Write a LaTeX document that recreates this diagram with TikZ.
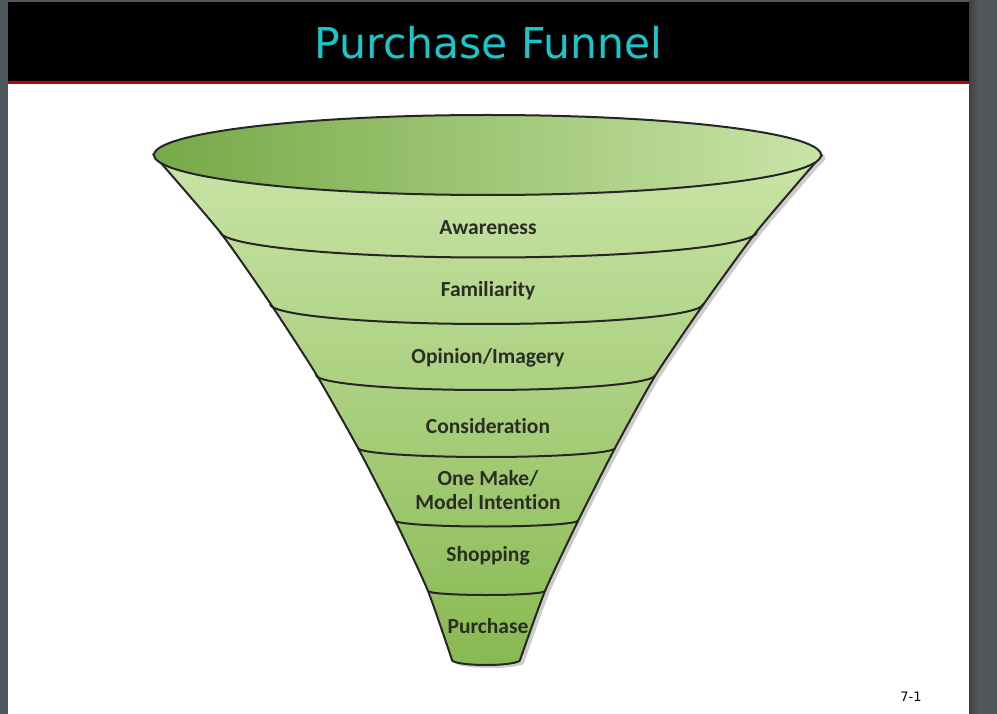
\documentclass[tikz,border=0pt]{standalone}
\usepackage{fontspec}
\newfontfamily\titrefont{DejaVu Sans}
\newfontfamily\etiqfont[Ligatures=NoCommon]{Carlito}
\usetikzlibrary{positioning}

\definecolor{fond}{HTML}{50575B}
\definecolor{titre}{HTML}{16C8CC}
\definecolor{rouge}{HTML}{C00000}
\definecolor{vertclair}{HTML}{C9E4A7}
\definecolor{vertfonce}{HTML}{88B951}
\definecolor{vertbord}{HTML}{76A947}
\definecolor{vertmilieu}{HTML}{8BBA5A}
\definecolor{texte}{HTML}{2A2D25}

% contour de l'entonnoir
\newcommand{\entonnoir}{plot[smooth, tension=0.35] coordinates {(154,155) (220,232) (270,303) (316,374) (358,448) (395,520) (428,591) (452,660)}
  arc[start angle=180, end angle=0, x radius=34, y radius=5]
  -- plot[smooth, tension=0.35] coordinates {(520,660) (545,591) (578,521) (615,448) (655,376) (703,305) (757,231) (821,156)} -- cycle}

\tikzset{
	bord/.style={draw=black!85, line width=2pt},
	bande/.style={draw=black!85, line width=2pt},
	etiq/.style={font=\etiqfont\bfseries\fontsize{21.5}{24}\selectfont, text=texte, align=center, inner sep=0pt}
}

\begin{document}
\begin{tikzpicture}[x=1pt, y=-1pt]
	\useasboundingbox (0,0) rectangle (997,714);
	% Diapositive
	\fill[fond] (0,0) rectangle (997,714);
	\shade[left color=black!75, right color=fond] (969,0) rectangle (978,714);
	\fill[white] (8,2) rectangle (969,714);
	\fill[black] (8,2) rectangle (969,81);
	\fill[rouge] (8,81) rectangle (969,84);
	\node[font=\titrefont\fontsize{42.5}{48}\selectfont, text=titre] (titre) at (488.5,43) {Purchase Funnel};

	% Entonnoir
	\fill[black!20, xshift=4pt, yshift=-3pt] \entonnoir;
	\fill[black!20, xshift=4pt, yshift=-3pt] (487.5,155) ellipse[x radius=333.5, y radius=40];
	\path[top color=vertclair, bottom color=vertfonce] \entonnoir;
	\draw[bord] \entonnoir;
	\foreach \xl/\xr/\y/\s in {220/757/231.5/26, 270/703/304/20, 316/655/375/15, 358/615/448/9, 395/578/520.5/6, 428/545/591/4} {
		\draw[bande] (\xl,\y) arc[start angle=180, end angle=0, x radius={(\xr-\xl)/2}, y radius=\s];
	}
	\draw[bord, left color=vertbord, middle color=vertmilieu, right color=vertclair] (487.5,155) ellipse[x radius=333.5, y radius=40];

	% Etapes
	\node[etiq] (aware) at (488,228) {Awareness};
	\node[etiq] (famil) at (488,291) {Familiarity};
	\node[etiq] (opin) at (488,358) {Opinion/Imagery};
	\node[etiq] (consid) at (488,426) {Consideration};
	\node[etiq] (intent) at (488,490) {One Make/\\Model Intention};
	\node[etiq] (shop) at (488,556) {Shopping};
	\node[etiq] (achat) at (488,626) {Purchase};

	\node[font=\titrefont\fontsize{13}{15}\selectfont] (page) at (911,697) {7-1};
\end{tikzpicture}
\end{document}
